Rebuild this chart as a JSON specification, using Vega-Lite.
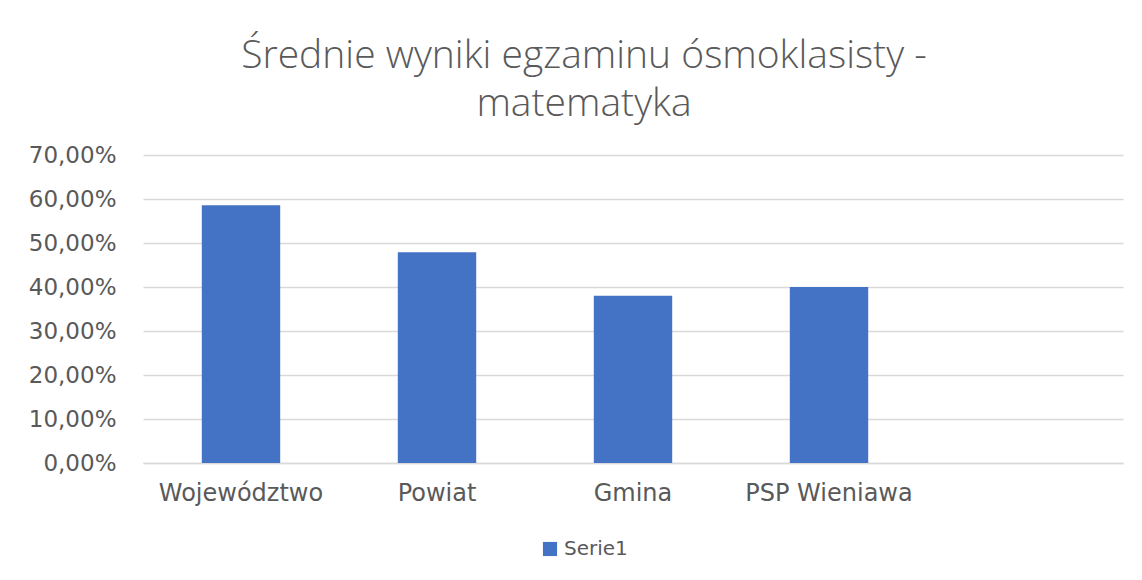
{
  "$schema": "https://vega.github.io/schema/vega-lite/v6.json",
  "autosize": {"type": "none"},
  "width": 980,
  "height": 308,
  "padding": {"left": 143, "top": 155, "right": 19, "bottom": 117},
  "background": "white",
  "config": {
    "locale": {"number": {"decimal": ",", "thousands": " ", "grouping": [3], "currency": ["", " zł"]}},
    "view": {"stroke": null},
    "font": "DejaVu Sans"
  },
  "title": {
    "text": ["Średnie wyniki egzaminu ósmoklasisty -", "matematyka"],
    "font": "Open Sans",
    "fontSize": 39,
    "fontWeight": 300,
    "color": "#595959",
    "lineHeight": 48,
    "anchor": "middle",
    "dx": -49,
    "offset": 20
  },
  "data": {
    "values": [
      {"kategoria": "Województwo", "wynik": 0.586, "seria": "Serie1"},
      {"kategoria": "Powiat", "wynik": 0.479, "seria": "Serie1"},
      {"kategoria": "Gmina", "wynik": 0.380, "seria": "Serie1"},
      {"kategoria": "PSP Wieniawa", "wynik": 0.400, "seria": "Serie1"}
    ]
  },
  "mark": {"type": "bar", "color": "#4472C4"},
  "encoding": {
    "x": {
      "field": "kategoria",
      "type": "nominal",
      "sort": null,
      "scale": {"domain": ["Województwo", "Powiat", "Gmina", "PSP Wieniawa", ""], "paddingInner": 0.6, "paddingOuter": 0.3},
      "axis": {
        "title": null,
        "labelAngle": 0,
        "labelFont": "DejaVu Sans",
        "labelFontSize": 24,
        "labelColor": "#595959",
        "labelPadding": 18,
        "ticks": false,
        "domainColor": "#d9d9d9",
        "domainWidth": 1.5
      }
    },
    "y": {
      "field": "wynik",
      "type": "quantitative",
      "scale": {"domain": [0, 0.7], "nice": false},
      "axis": {
        "title": null,
        "format": ".2%",
        "values": [0, 0.1, 0.2, 0.3, 0.4, 0.5, 0.6, 0.7],
        "labelFont": "DejaVu Sans",
        "labelFontSize": 23,
        "labelColor": "#595959",
        "labelPadding": 27,
        "ticks": false,
        "domain": false,
        "gridColor": "#d9d9d9",
        "gridWidth": 1.5
      }
    },
    "color": {
      "field": "seria",
      "type": "nominal",
      "scale": {"range": ["#4472C4"]},
      "legend": {
        "title": null,
        "orient": "none",
        "legendX": 397,
        "legendY": 384,
        "symbolType": "square",
        "symbolSize": 200,
        "symbolStrokeWidth": 0,
        "labelFontSize": 20,
        "labelColor": "#595959",
        "labelOffset": 4,
        "labelFont": "DejaVu Sans"
      }
    }
  }
}
